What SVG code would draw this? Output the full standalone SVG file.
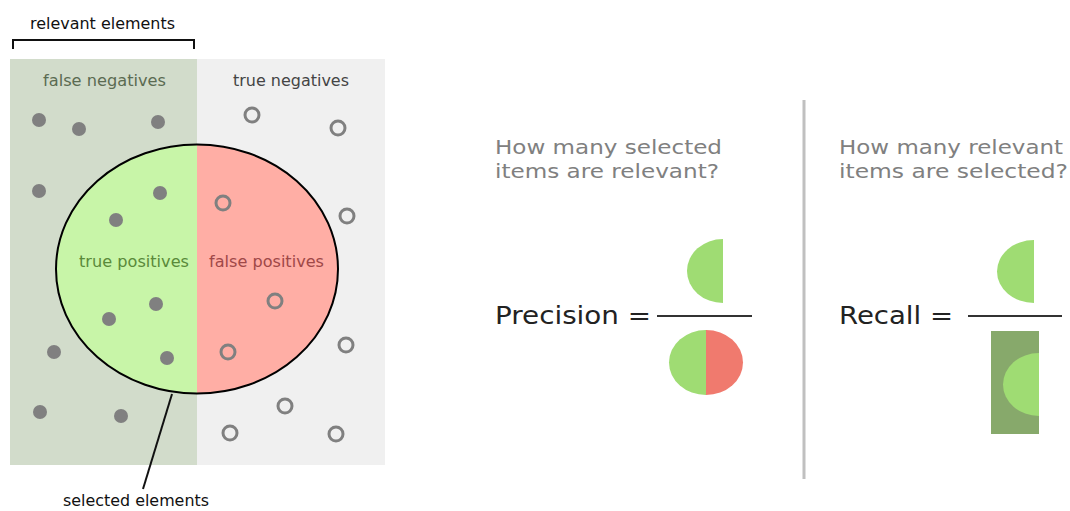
<svg xmlns="http://www.w3.org/2000/svg" width="1070" height="511" viewBox="0 0 1070 511">
<style>
text{font-family:"DejaVu Sans","Liberation Sans",sans-serif}
.lbl{font-size:15px}
.q{font-size:20px;fill:#808080}
.eq{font-size:24px;fill:#222}
.fd{fill:#808080}
.hd{fill:none;stroke:#808080;stroke-width:3}
.gr{fill:#9fdc73}
</style>
<rect width="1070" height="511" fill="#fff"/>
<g id="relevant-area">
<rect x="10" y="59" width="187" height="406" fill="#d2dccb"/>
</g>
<g id="irrelevant-area">
<rect x="197" y="59" width="188" height="406" fill="#f0f0f0"/>
</g>
<g id="selected-ellipse">
<clipPath id="cl"><rect x="0" y="0" width="197" height="511"/></clipPath>
<clipPath id="cr"><rect x="197" y="0" width="300" height="511"/></clipPath>
<ellipse cx="197" cy="269" rx="141" ry="124.5" fill="#c8f5a8" clip-path="url(#cl)"/>
<ellipse cx="197" cy="269" rx="141" ry="124.5" fill="#ffaea5" clip-path="url(#cr)"/>
<ellipse cx="197" cy="269" rx="141" ry="124.5" fill="none" stroke="#000" stroke-width="2"/>
</g>
<g id="labels">
<text class="lbl" x="30" y="29" fill="#111" textLength="145" lengthAdjust="spacingAndGlyphs">relevant elements</text>
<text class="lbl" x="43" y="86" fill="#5b6b52" textLength="123" lengthAdjust="spacingAndGlyphs">false negatives</text>
<text class="lbl" x="233" y="86" fill="#444" textLength="116" lengthAdjust="spacingAndGlyphs">true negatives</text>
<text class="lbl" x="79" y="267" fill="#5a8a3a" textLength="110" lengthAdjust="spacingAndGlyphs">true positives</text>
<text class="lbl" x="209" y="267" fill="#a04848" textLength="115" lengthAdjust="spacingAndGlyphs">false positives</text>
<text class="lbl" x="63" y="506" fill="#111" textLength="146" lengthAdjust="spacingAndGlyphs">selected elements</text>
</g>
<g id="items">
<circle class="fd" cx="39" cy="120" r="7"/>
<circle class="fd" cx="79" cy="129" r="7"/>
<circle class="fd" cx="158" cy="122" r="7"/>
<circle class="fd" cx="39" cy="191" r="7"/>
<circle class="fd" cx="160" cy="193" r="7"/>
<circle class="fd" cx="116" cy="220" r="7"/>
<circle class="fd" cx="156" cy="304" r="7"/>
<circle class="fd" cx="109" cy="319" r="7"/>
<circle class="fd" cx="54" cy="352" r="7"/>
<circle class="fd" cx="167" cy="358" r="7"/>
<circle class="fd" cx="40" cy="412" r="7"/>
<circle class="fd" cx="121" cy="416" r="7"/>
<circle class="hd" cx="252" cy="115" r="7"/>
<circle class="hd" cx="338" cy="128" r="7"/>
<circle class="hd" cx="223" cy="203" r="7"/>
<circle class="hd" cx="347" cy="216" r="7"/>
<circle class="hd" cx="275" cy="301" r="7"/>
<circle class="hd" cx="228" cy="352" r="7"/>
<circle class="hd" cx="346" cy="345" r="7"/>
<circle class="hd" cx="285" cy="406" r="7"/>
<circle class="hd" cx="230" cy="433" r="7"/>
<circle class="hd" cx="336" cy="434" r="7"/>
</g>
<g id="connectors" fill="none" stroke="#111" stroke-width="2">
<path d="M13,49 V40 H194 V49"/>
<line x1="172" y1="394" x2="143" y2="489"/>
</g>
<g id="separator">
<line x1="804" y1="100" x2="804" y2="479" stroke="#c0c0c0" stroke-width="3"/>
</g>
<g id="precision">
<text class="q" x="495" y="154" textLength="227" lengthAdjust="spacingAndGlyphs">How many selected</text>
<text class="q" x="495" y="178" textLength="224" lengthAdjust="spacingAndGlyphs">items are relevant?</text>
<text class="eq" x="495" y="324" textLength="156" lengthAdjust="spacingAndGlyphs">Precision =</text>
<line x1="657" y1="316" x2="752" y2="316" stroke="#333" stroke-width="2"/>
<path class="gr" d="M723,239 A36,32 0 0 0 723,303 Z"/>
<path class="gr" d="M706,330 A37,32.5 0 0 0 706,395 Z"/>
<path fill="#f07a6e" d="M706,330 A37,32.5 0 0 1 706,395 Z"/>
</g>
<g id="recall">
<text class="q" x="839" y="154" textLength="224" lengthAdjust="spacingAndGlyphs">How many relevant</text>
<text class="q" x="839" y="178" textLength="229" lengthAdjust="spacingAndGlyphs">items are selected?</text>
<text class="eq" x="839" y="324" textLength="114" lengthAdjust="spacingAndGlyphs">Recall =</text>
<line x1="968" y1="316" x2="1062" y2="316" stroke="#333" stroke-width="2"/>
<path class="gr" d="M1034,240 A37,31.5 0 0 0 1034,303 Z"/>
<rect x="991" y="331" width="48" height="103" fill="#87a96b"/>
<path class="gr" d="M1039,353 A36,31.5 0 0 0 1039,416 Z"/>
</g>
</svg>
